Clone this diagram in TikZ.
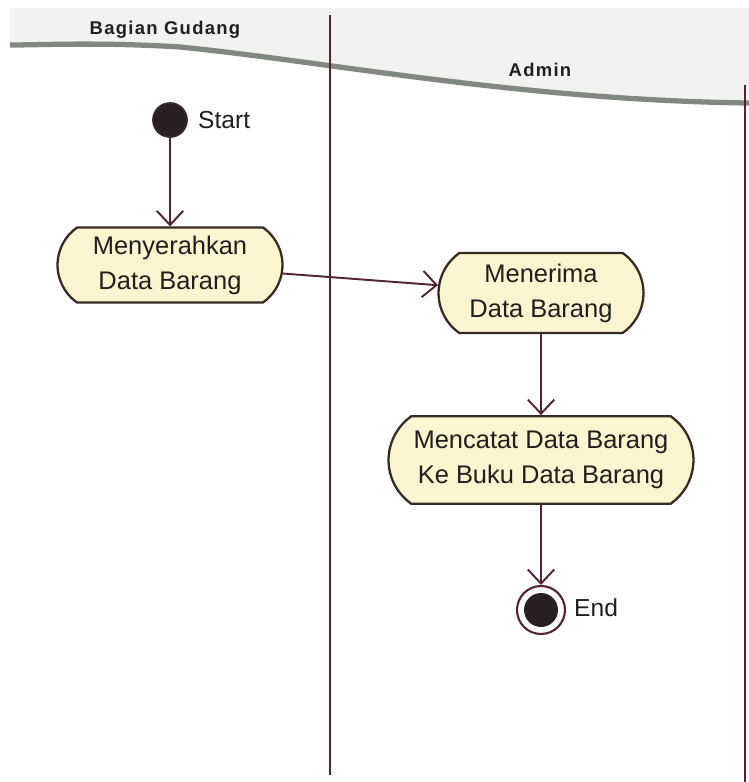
\documentclass[tikz,border=0pt]{standalone}
\usepackage{fontspec}
\setmainfont{Liberation Sans}
\usetikzlibrary{arrows.meta,shapes.misc}
\definecolor{linec}{RGB}{85,35,48}
\definecolor{boxfill}{RGB}{252,245,208}
\definecolor{boxline}{RGB}{55,42,35}
\definecolor{headfill}{RGB}{242,243,241}
\definecolor{headline}{RGB}{128,136,128}
\definecolor{dotfill}{RGB}{40,32,36}
\definecolor{txt}{RGB}{35,30,30}
\begin{document}
\begin{tikzpicture}[x=0.02cm,y=-0.02cm,
  flow/.style={draw=linec, line width=1.1pt, -{Straight Barb[length=8pt,width=15pt,line width=1.1pt]}},
  actbox/.style={draw=boxline, fill=boxfill, line width=1.3pt, rounded rectangle, rounded rectangle arc length=110,
    align=center, text=txt, font=\fontsize{14.5}{20}\selectfont, inner sep=0pt},
  lane/.style={draw=linec, line width=1.2pt},
  lanetitle/.style={font=\fontsize{10.5}{12}\selectfont\bfseries\addfontfeature{LetterSpace=7}, text=txt},
  statelabel/.style={font=\fontsize{14}{16}\selectfont, text=txt, anchor=west}
]
\useasboundingbox (0,0) rectangle (749,782);
% header band
\fill[headfill] (10,8) -- (749,8) -- (749,103) .. controls (520,100) and (330,62) .. (180,47) .. controls (100,42) and (40,45) .. (10,45) -- cycle;
\draw[headline, line width=3pt] (10,45) .. controls (40,45) and (100,42) .. (180,47) .. controls (330,62) and (520,100) .. (749,103);
\node[lanetitle] (t1) at (165,30) {Bagian Gudang};
\node[lanetitle] (t2) at (540,70) {Admin};
% lanes
\draw[lane] (330,15) -- (330,775);
\draw[lane] (745,85) -- (745,782);
% nodes
\node[circle, fill=dotfill, draw=boxline, line width=1pt, inner sep=0pt, minimum size=0.68cm] (start) at (170,120) {};
\node[statelabel] (startl) at (192,120) {Start};
\node[actbox, minimum width=4.5cm, minimum height=1.5cm] (a1) at (170,265) {Menyerahkan\\Data Barang};
\node[actbox, minimum width=4.1cm, minimum height=1.6cm] (a2) at (541,293) {Menerima\\Data Barang};
\node[actbox, minimum width=6.1cm, minimum height=1.75cm] (a3) at (541,460) {Mencatat Data Barang\\Ke Buku Data Barang};
\node[circle, draw=linec, line width=1.2pt, fill=white, inner sep=0pt, minimum size=0.96cm] (end) at (541,610) {};
\node[circle, fill=dotfill, inner sep=0pt, minimum size=0.68cm] (endin) at (end.center) {};
\node[statelabel] (endl) at (568,608) {End};
% flows
\draw[flow] (start) -- (a1);
\draw[flow] (a1) -- (a2);
\draw[flow] (a2) -- (a3);
\draw[flow] (a3) -- (end);
\end{tikzpicture}
\end{document}
